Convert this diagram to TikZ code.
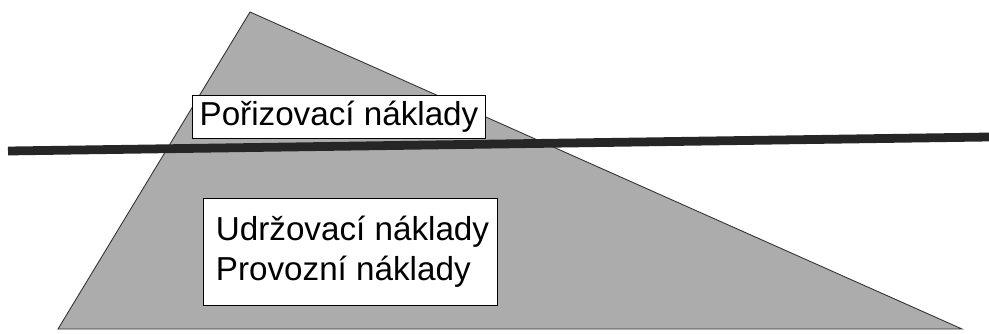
\documentclass[tikz,border=0pt]{standalone}
\usepackage{fontspec}
\setmainfont{Liberation Sans}
\usetikzlibrary{positioning}
\tikzset{
  costbox/.style={draw=black, line width=0.5pt, fill=white, inner xsep=0.14cm, inner ysep=0.1cm,
                  font=\fontsize{18.9}{22.5}\selectfont, align=left}
}
\begin{document}
\begin{tikzpicture}
\useasboundingbox[fill=white] (0,0) rectangle (19.78,6.66);
% iceberg
\coordinate (top) at (5.0,6.42);
\coordinate (bl) at (1.16,0.08);
\coordinate (br) at (19.24,0.08);
\filldraw[fill=gray!65, draw=black!80, line width=0.5pt] (top) -- (bl) -- (br) -- cycle;
% waterline
\coordinate (wl) at (0.16,3.64);
\coordinate (wr) at (19.78,3.92);
\draw[black!85, line width=5pt] (wl) -- (wr);
\node[costbox, minimum width=5.76cm, minimum height=0.86cm] (por) at (6.78,4.33) {Pořizovací náklady};
\node[costbox, minimum width=5.88cm, minimum height=2.14cm] (udr) at (7.0,1.63) {\hspace*{0.1cm}Udržovací náklady\\\hspace*{0.1cm}Provozní náklady};
\end{tikzpicture}
\end{document}
